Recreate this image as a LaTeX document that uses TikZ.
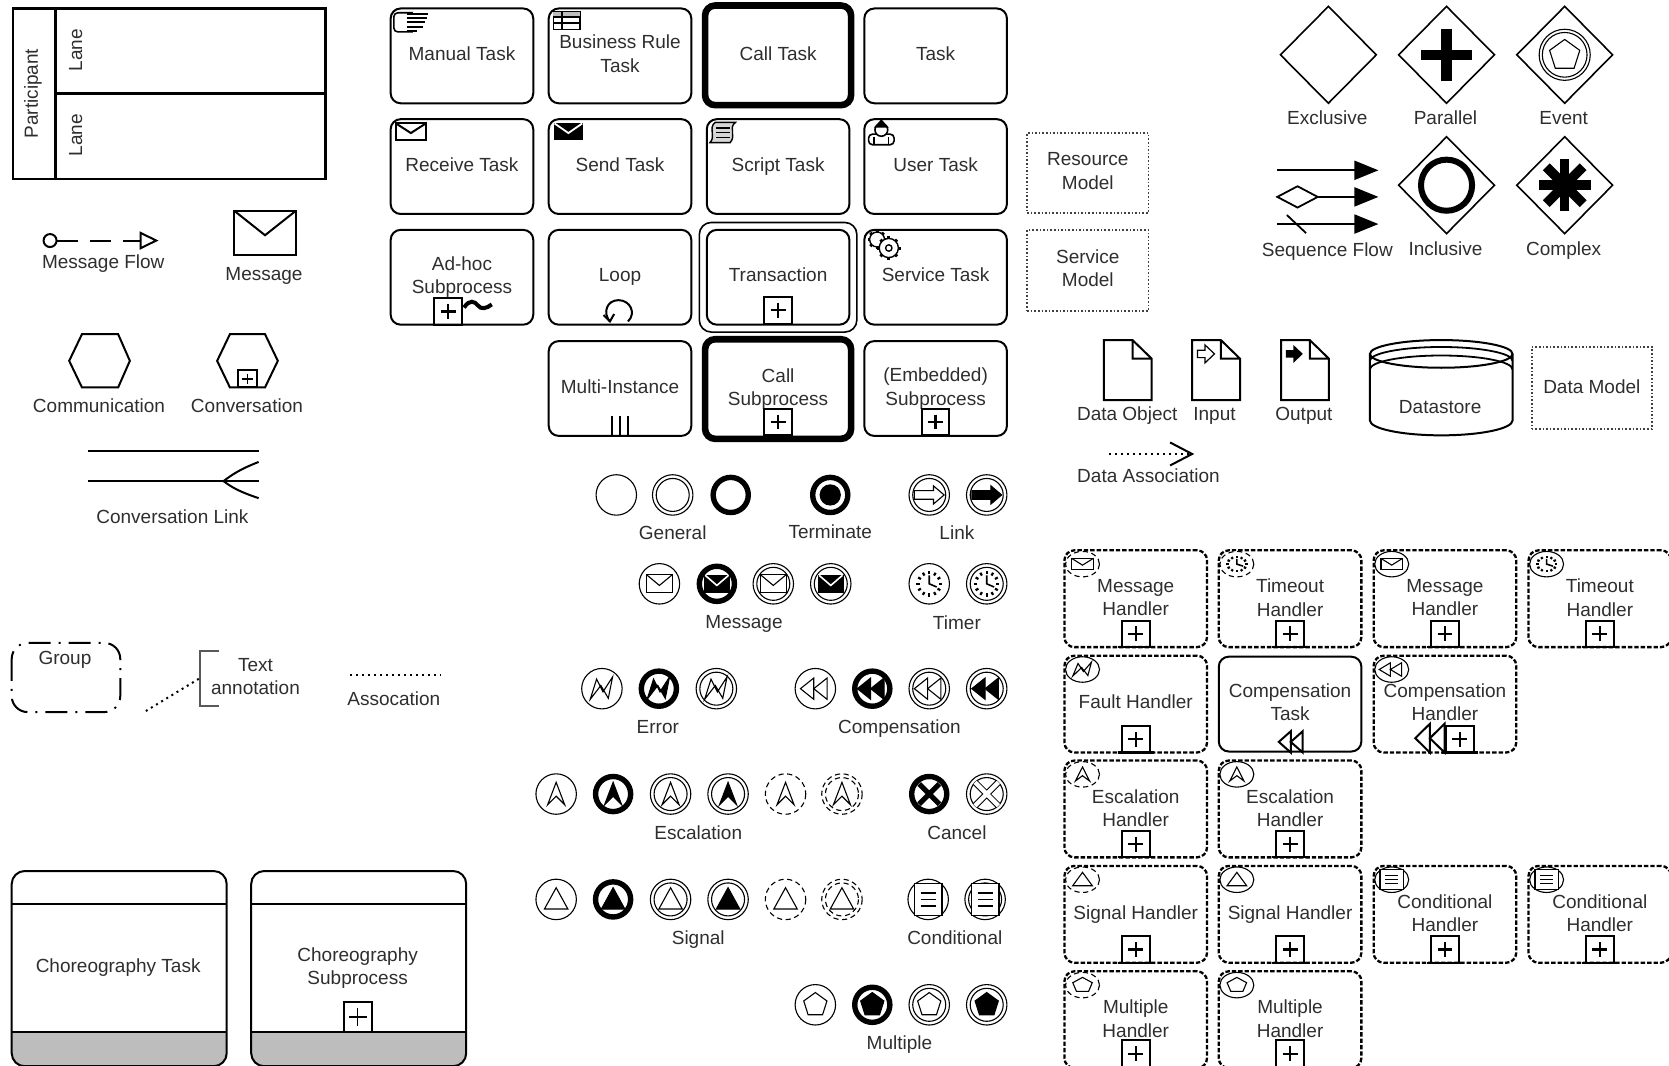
\documentclass[tikz,border=0pt]{standalone}
\usepackage{fontspec}
\setmainfont{Liberation Sans}
\usetikzlibrary{arrows.meta,calc}
\definecolor{ink}{HTML}{000000}
\definecolor{txt}{HTML}{2E2E2E}
\definecolor{band}{HTML}{BDBDBD}

%% event rings, drawn round (0,0)
\newcommand{\ringPlain}{\draw[ev, fill=white] (0,0) circle (19);}
\newcommand{\ringThick}{\draw[line width=2.7pt, fill=white] (0,0) circle (16.5);}
\newcommand{\ringDouble}{\draw[ev, fill=white] (0,0) circle (19); \draw[ev] (0,0) circle (15.5);}
\newcommand{\ringDash}{\draw[ev, dash pattern=on 2.6pt off 1.8pt, fill=white] (0,0) circle (19);}
\newcommand{\ringDashDouble}{\draw[ev, dash pattern=on 2.6pt off 1.8pt, fill=white] (0,0) circle (19);
  \draw[ev, dash pattern=on 2.6pt off 1.8pt] (0,0) circle (15.5);}
\newcommand{\ringNone}{}
%% event glyphs
\newcommand{\glNone}[1]{}
\newcommand{\glMail}[1]{\draw[ev, fill=#1] (-12,-8.5) rectangle (12,8.5); \draw[ev] (-12,-8.5) -- (0,1.5) -- (12,-8.5);}
\newcommand{\glMailB}[1]{\fill[ink] (-12,-8.5) rectangle (12,8.5); \draw[white, line width=.8pt] (-11,-8) -- (0,1.5) -- (11,-8);}
\newcommand{\glLink}[1]{\draw[ev, fill=#1] (-14,-4) -- (4,-4) -- (4,-8.5) -- (14,0) -- (4,8.5) -- (4,4) -- (-14,4) -- cycle;}
\newcommand{\glClock}[1]{\foreach \a in {0,30,...,330} {\draw[line width=1.1pt] (\a:9) -- (\a:12);}
  \draw[line width=.8pt] (0,-8) -- (0,0) -- (7,3);}
\newcommand{\glBolt}[1]{\draw[ev, fill=#1] (-11,10) -- (-5,-9) -- (1,3) -- (10,-11) -- (6,9) -- (-1,-3) -- cycle;}
\newcommand{\glComp}[1]{\draw[ev, fill=#1] (-1.5,-10) -- (-14,0) -- (-1.5,10) -- cycle; \draw[ev, fill=#1] (11,-10) -- (-1.5,0) -- (11,10) -- cycle;}
\newcommand{\glEsc}[1]{\draw[ev, fill=#1] (0,-11) -- (-8,10) -- (0,2) -- (8,10) -- cycle;}
\newcommand{\glTri}[1]{\draw[ev, fill=#1] (0,-11) -- (11,9) -- (-11,9) -- cycle;}
\newcommand{\glCond}[1]{\draw[ev, line width=.7pt, fill=white] (-13,-15) rectangle (13,15);
  \foreach \t in {-6,0,6} {\draw[ev, line width=.7pt] (-7,\t) -- (7,\t);}}
\newcommand{\glCrossB}[1]{\draw[line width=2.6pt] (-9.5,-9.5) -- (9.5,9.5) (-9.5,9.5) -- (9.5,-9.5);}
\newcommand{\glCrossW}[1]{\draw[line width=3.2pt] (-11,-11) -- (11,11) (-11,11) -- (11,-11);
  \draw[white, line width=2.2pt] (-11,-11) -- (11,11) (-11,11) -- (11,-11);}
\newcommand{\glPent}[1]{\draw[ev, fill=#1] (0,-11.5) -- (10.9,-3.6) -- (6.8,9.3) -- (-6.8,9.3) -- (-10.9,-3.6) -- cycle;}
\newcommand{\glDisc}[1]{\fill[ink] (0,0) circle (10);}

\newcommand{\ev}[5]{\begin{scope}[shift={(#1,#2)}]\csname ring#3\endcsname\csname gl#4\endcsname{#5}\end{scope}}
%% the same event, squeezed into the corner of a handler box
\newcommand{\evs}[5]{\begin{scope}[shift={(#1,#2)},xscale=.84,yscale=.63]\ev{0}{0}{#3}{#4}{#5}\end{scope}}
%% subprocess marker: centre x, bottom y
\newcommand{\plusmark}[2]{\draw[markbox] (#1-13,#2-25) rectangle (#1+13,#2);
  \draw[line width=1.2pt] (#1-7,#2-12.5) -- (#1+7,#2-12.5) (#1,#2-19.5) -- (#1,#2-5.5);}
\newcommand{\plushdl}[2]{\plusmark{#1}{#2}\draw[line width=1.1pt] (#1-17,#2) -- (#1+17,#2);}
\newcommand{\gearat}[3]{\foreach \a in {0,45,...,315}
    {\draw[line width=1.5pt] ($(#1,#2)+(\a:#3-1)$) -- ($(#1,#2)+(\a:#3+2)$);}
  \draw[ev, line width=.7pt, fill=white] (#1,#2) circle (#3);}

\begin{document}
\begin{tikzpicture}[
  x=.5322pt, y=-.5322pt, line width=1pt,
  font=\fontsize{9.5}{11.7}\selectfont, text=txt,
  ev/.style={line width=.55pt, draw=ink},
  markbox/.style={line width=1pt, draw=ink},
  task/.style={draw=ink, rounded corners=5pt, line width=1pt, align=center, inner sep=0pt,
               minimum width=71.3pt, minimum height=47.4pt},
  oneline/.style={text height=6.8pt, text depth=2.1pt},
  raised/.style={text depth=2.1pt},
  calltask/.style={task, line width=3.3pt, minimum width=73pt, minimum height=49.8pt},
  hdl/.style={task, minimum height=48.4pt, line width=1.15pt, dash pattern=on 2.2pt off 1pt, text depth=1.1pt},
  model/.style={draw=ink!75, densely dotted, line width=.8pt, align=center, inner sep=0pt, text depth=2.1pt},
  gate/.style={draw=ink, line width=.8pt},
  lab/.style={inner sep=0pt, align=center},
  chor/.style={draw=ink, rounded corners=6.5pt, line width=1pt, align=center, inner sep=0pt,
               minimum width=107.5pt, minimum height=97.6pt},
  flow/.style={line width=1pt, -{Triangle[length=12pt,width=9.5pt]}},
  doc/.style={line width=1pt, draw=ink},
]
\useasboundingbox (0,0) rectangle (1568,1001.5);

%% ================= pool =================
\draw[line width=1.25pt] (12,8) rectangle (306,168);
\draw[line width=1.25pt] (52,8) -- (52,168) (52,88) -- (306,88);
\node[lab, rotate=90] (participant) at (31,88) {Participant};
\node[lab, rotate=90] (lane1) at (71,47) {Lane};
\node[lab, rotate=90] (lane2) at (71,127) {Lane};

%% ================= message flow, message =================
\coordinate (mfA) at (40,226);
\coordinate (mfB) at (149,226);
\draw[line width=1pt, dash pattern=on 10.6pt off 6.1pt,
      {Circle[open,length=7.5pt,width=7.5pt]}-{Triangle[open,length=9.5pt,width=9pt]}] (mfA) -- (mfB);
\node[lab] (mfLabel) at (97,248) {Message Flow};
\draw[line width=1pt] (220,198) rectangle (278,240);
\draw[line width=1pt] (220,198) -- (249,221) -- (278,198);
\node[lab] (msgLabel) at (248,259) {Message};

%% ================= communication, conversation =================
\draw[line width=1pt] (77,314) -- (111,314) -- (122,339) -- (111,364) -- (77,364) -- (65,339) -- cycle;
\draw[line width=1pt] (216,314) -- (249,314) -- (261,339) -- (249,364) -- (216,364) -- (204,339) -- cycle;
\draw[line width=1pt] (224,348) rectangle (241,364);
\draw[line width=.9pt] (227,356) -- (238,356) (232.5,351) -- (232.5,361);
\node[lab] (commLabel) at (93,381) {Communication};
\node[lab] (convLabel) at (232,381) {Conversation};

\coordinate (clA) at (83,424);
\coordinate (clB) at (243,424);
\coordinate (clC) at (83,452);
\coordinate (clD) at (243,452);
\coordinate (clE) at (210,452);
\coordinate (clF) at (243,434);
\coordinate (clG) at (243,468);
\draw[line width=1pt] (clA) -- (clB);
\draw[line width=1pt] (clC) -- (clD);
\draw[line width=1pt] (clF) .. controls (225,441) and (218,446) .. (clE) .. controls (218,458) and (225,462) .. (clG);
\node[lab] (clLabel) at (162,485) {Conversation Link};

%% ================= group, annotation, association =================
\draw[line width=1pt, rounded corners=8pt, dash pattern=on 11pt off 4pt on 1pt off 4pt] (11,604) rectangle (113,669);
\node[lab] (groupLabel) at (61,620) {Group};
\draw[draw=ink!65, line width=1pt] (206,611.5) -- (188,611.5) -- (188,663) -- (206,663);
\node[lab] (annot) at (240,635.5) {Text\\annotation};
\coordinate (anA) at (137,668);
\coordinate (anB) at (188,637);
\draw[line width=1pt, dotted] (anA) -- (anB);
\coordinate (asA) at (329,634);
\coordinate (asB) at (414,634);
\draw[line width=1pt, dotted] (asA) -- (asB);
\node[lab] (asLabel) at (370,656) {Assocation};

%% ================= choreography =================
\node[chor, path picture={\fill[band, sharp corners] ([yshift=16.5pt]path picture bounding box.south west) rectangle (path picture bounding box.south east);}]
  (chorTask) at (112,910) {};
\draw[line width=1pt] (11,849.5) -- (213,849.5) (11,970) -- (213,970);
\node[lab] at (111,909.5) (chorTaskLabel) {Choreography Task};
\node[chor, path picture={\fill[band, sharp corners] ([yshift=16.5pt]path picture bounding box.south west) rectangle (path picture bounding box.south east);}]
  (chorSub) at (337,910) {};
\draw[line width=1pt] (236,849.5) -- (438,849.5) (236,970) -- (438,970);
\node[lab] at (336,909.5) (chorSubLabel) {Choreography\\Subprocess};
\draw[markbox] (323,941) rectangle (349.5,970);
\draw[line width=.8pt] (328,955.5) -- (345,955.5) (336,947) -- (336,964);

%% ================= tasks =================
\node[task, oneline] (manual)   at (434,52.5) {Manual Task};
\node[task, raised] (bizrule)  at (582.5,52.5) {Business Rule\\Task};
\node[calltask, oneline] (calltsk) at (731,52) {Call Task};
\node[task, oneline] (plain)    at (879,52.5) {Task};
\node[task, oneline] (receive)  at (434,156.5) {Receive Task};
\node[task, oneline] (send)     at (582.5,156.5) {Send Task};
\node[task, oneline] (script)   at (731,156.5) {Script Task};
\node[task, oneline] (user)     at (879,156.5) {User Task};
\node[task] (adhoc)    at (434,260.5) {Ad-hoc\\Subprocess};
\node[task, oneline] (loop)     at (582.5,260.5) {Loop};
\draw[line width=.8pt, rounded corners=6pt] (657,209) rectangle (805,312);
\node[task, oneline] (transact) at (731,260.5) {Transaction};
\node[task, oneline] (service)  at (879,260.5) {Service Task};
\node[task, oneline] (multi)    at (582.5,365) {Multi-Instance};
\node[calltask] (callsub) at (731,365.5) {Call\\Subprocess};
\node[task] (embedded) at (879,365) {(Embedded)\\Subprocess};

% task icons
\draw[line width=.8pt, rounded corners=2pt] (388,12) -- (370,12) -- (370,30) -- (388,30);
\foreach \t/\e in {13/402,17/401,21/399,25/397,29/392}
  \draw[line width=1pt] (382,\t) -- (\e,\t);
\draw[line width=.7pt] (520,11) rectangle (545,27.5);
\fill[band] (520,11) rectangle (545,16);
\draw[line width=.7pt] (520,16) -- (545,16) (520,21.5) -- (545,21.5) (528,11) -- (528,27.5);
\draw[line width=1pt] (372,116) rectangle (400,132);
\draw[line width=1pt] (372,116) -- (386,125) -- (400,116);
\fill[ink] (520.5,116) rectangle (548,132);
\draw[white, line width=.9pt] (521,116) -- (534,125) -- (547,116);
\draw[ev, line width=.7pt, fill=band!60] (672,115) -- (691,115) .. controls (684,120) and (692,127) .. (686,134)
  -- (667,134) .. controls (673,128) and (665,120) .. (672,115) -- cycle;
\foreach \t in {120,124.5,129} \draw[line width=.8pt] (673,\t) -- (686,\t);
\draw[line width=.8pt, rounded corners=2pt, fill=white] (816,136) -- (816,126) -- (840,126) -- (840,136) -- cycle;
\draw[line width=.8pt, fill=white] (828,122) circle (6);
\fill[ink] (821,120) -- (828,112) -- (835,120) -- cycle;
\draw[line width=.7pt] (821,129) -- (821,136) (835,129) -- (835,136);
\gearat{824}{225}{7}
\gearat{835}{233}{9}
\draw[ev, line width=.7pt] (835,233) circle (3);

% markers at the bottom edge
\plusmark{421}{305}
\draw[line width=2pt] (436,289) .. controls (441,281) and (446,283) .. (449,287) .. controls (452,291) and (457,290) .. (462,286);
\draw[line width=1pt] (590,302) .. controls (598,294) and (592,282) .. (581,282)
  .. controls (570,282) and (566,294) .. (573,302);
\draw[line width=1pt] (567,296) -- (573,302) -- (577,295);
\draw[line width=1pt] (575,391) -- (575,409) (582.5,391) -- (582.5,409) (590,391) -- (590,409);
\plusmark{731}{304}
\plusmark{731}{409}
\plusmark{879}{409}

%% ================= models =================
\node[model, minimum width=60.7pt, minimum height=40pt] (resource) at (1022,162.5) {Resource\\Model};
\node[model, minimum width=60.7pt, minimum height=40.4pt] (svcmodel) at (1022,254) {Service\\Model};
\node[model, minimum width=60pt, minimum height=41pt, text depth=1pt] (datamodel) at (1495.5,364.5) {Data Model};

%% ================= gateways =================
\foreach \cx/\cy in {1248/51.5,1359/51.5,1470/51.5,1359/174,1470/174}
  \draw[gate] (\cx-45,\cy) -- (\cx,\cy-45.5) -- (\cx+45,\cy) -- (\cx,\cy+45.5) -- cycle;
\draw[line width=5.3pt] (1335,51.5) -- (1383,51.5) (1359,27) -- (1359,76);
\draw[ev] (1470,51.5) circle (24) (1470,51.5) circle (21);
\begin{scope}[shift={(1470,52)},scale=1.3]\glPent{white}\end{scope}
\draw[line width=3pt] (1359,174) circle (24);
\foreach \a in {0,45,90,135}
  \draw[line width=4.8pt] ($(1470,174)+(\a:24.5)$) -- ($(1470,174)+(\a+180:24.5)$);
\foreach \t/\lx/\ly [count=\i] in {Exclusive/1247/111,Parallel/1358/111,Event/1469/111,Sequence Flow/1247/236,Inclusive/1358/233.5,Complex/1469/235}
  \node[lab] (gate\i) at (\lx,\ly) {\t};

%% ================= sequence flows =================
\coordinate (sfA) at (1200,160);
\coordinate (sfB) at (1295,160);
\coordinate (sfC) at (1238,185);
\coordinate (sfD) at (1295,185);
\coordinate (sfE) at (1200,210.5);
\coordinate (sfF) at (1295,210.5);
\draw[flow] (sfA) -- (sfB);
\draw[flow] (sfC) -- (sfD);
\draw[flow] (sfE) -- (sfF);
\draw[line width=.9pt] (1200,185) -- (1219,175) -- (1238,185) -- (1219,195) -- cycle;
\draw[line width=.9pt] (1209,202) -- (1227,219);

%% ================= data =================
\foreach \dx in {1037,1120,1203.5}
  \draw[doc] (\dx,319.5) -- (\dx+27,319.5) -- (\dx+45,337) -- (\dx+45,376) -- (\dx,376) -- cycle
    (\dx+27,319.5) -- (\dx+27,337) -- (\dx+45,337);
\draw[line width=.6pt] (1125,329) -- (1132,329) -- (1132,324) -- (1141,332.5) -- (1132,341) -- (1132,336) -- (1125,336) -- cycle;
\fill[ink] (1208,329) -- (1215,329) -- (1215,324) -- (1224,332.5) -- (1215,341) -- (1215,336) -- (1208,336) -- cycle;
\node[lab] (objLabel) at (1059,390.5) {Data Object};
\node[lab] (inLabel) at (1141,390.5) {Input};
\node[lab] (outLabel) at (1225,390.5) {Output};
\draw[doc] (1287,332.5) arc (180:360:67 and 13) -- (1421,395) arc (0:180:67 and 14) -- cycle;
\draw[doc] (1287,332.5) arc (180:0:67 and 13);
\draw[line width=.9pt] (1287,339) arc (180:360:67 and 13) (1287,347) arc (180:360:67 and 13);
\node[lab] (storeLabel) at (1353,382) {Datastore};
\coordinate (daA) at (1042,426.5);
\coordinate (daB) at (1122,426.5);
\draw[line width=1pt, dotted, -{Straight Barb[length=11pt,width=11.5pt]}] (daA) -- (daB);
\node[lab] (daLabel) at (1079,447) {Data Association};

%% ================= events =================
\foreach \px/\ring/\gl/\fl in {579/Plain/None/white,632/Double/None/white,686.5/Thick/None/white,780/Thick/Disc/white,873/Double/Link/white,927/Double/Link/black}
  {\ev{\px}{465}{\ring}{\gl}{\fl}}
\foreach \px/\ring/\gl/\fl in {619.5/Plain/Mail/white,673.5/Thick/MailB/black,726.5/Double/Mail/white,780.5/Double/MailB/black,873/Plain/Clock/white,927/Double/Clock/white}
  {\ev{\px}{548.5}{\ring}{\gl}{\fl}}
\foreach \px/\ring/\gl/\fl in {565.5/Plain/Bolt/white,619/Thick/Bolt/black,673/Double/Bolt/white,766/Plain/Comp/white,819.5/Thick/Comp/black,873/Double/Comp/white,927/Double/Comp/black}
  {\ev{\px}{647}{\ring}{\gl}{\fl}}
\foreach \px/\ring/\gl/\fl in {522.5/Plain/Esc/white,576/Thick/Esc/black,630/Double/Esc/white,684/Double/Esc/black,738/Dash/Esc/white,791/DashDouble/Esc/white,873/Thick/CrossB/white,927/Double/CrossW/white}
  {\ev{\px}{746}{\ring}{\gl}{\fl}}
\foreach \px/\ring/\gl/\fl in {522.5/Plain/Tri/white,576/Thick/Tri/black,630/Double/Tri/white,684/Double/Tri/black,738/Dash/Tri/white,791/DashDouble/Tri/white,872/Plain/Cond/white,925.5/Double/Cond/white}
  {\ev{\px}{845}{\ring}{\gl}{\fl}}
\foreach \px/\ring/\gl/\fl in {766/Plain/Pent/white,819.5/Thick/Pent/black,873/Double/Pent/white,927/Double/Pent/black}
  {\ev{\px}{944}{\ring}{\gl}{\fl}}
\foreach \t/\lx/\ly [count=\i] in {General/632/500.5,Terminate/780/500,Link/899/500,Message/699/586.5,Timer/899/585,Error/618/683,Compensation/845/684.5,Escalation/656/782,Cancel/899/782,Signal/656/882.5,Conditional/897/881,Multiple/845/981}
  \node[lab] (evLabel\i) at (\lx,\ly) {\t};

%% ================= handlers =================
\node[hdl] (hMsgA) at (1067,562.5) {Message\\Handler};
\node[hdl] (hTimA) at (1212,562.5) {Timeout\\Handler};
\node[hdl] (hMsgB) at (1357.5,562.5) {Message\\Handler};
\node[hdl] (hTimB) at (1503,562.5) {Timeout\\Handler};
\node[hdl, oneline] (hFault) at (1067,661.5) {Fault Handler};
\node[task, raised] (cTask) at (1212,661.5) {Compensation\\Task};
\node[hdl, raised] (hComp) at (1357.5,661.5) {Compensation\\Handler};
\node[hdl] (hEscA) at (1067,760) {Escalation\\Handler};
\node[hdl] (hEscB) at (1212,760) {Escalation\\Handler};
\node[hdl, oneline] (hSigA) at (1067,859) {Signal Handler};
\node[hdl, oneline] (hSigB) at (1212,859) {Signal Handler};
\node[hdl] (hCndA) at (1357.5,859) {Conditional\\Handler};
\node[hdl] (hCndB) at (1503,859) {Conditional\\Handler};
\node[hdl] (hMulA) at (1067,958) {Multiple\\Handler};
\node[hdl] (hMulB) at (1212,958) {Multiple\\Handler};

\evs{1017}{530}{Dash}{Mail}{white}
\evs{1162}{530}{Dash}{Clock}{white}
\evs{1307.5}{530}{Plain}{Mail}{white}
\evs{1453}{530}{Plain}{Clock}{white}
\evs{1017}{629}{Plain}{Bolt}{white}
\evs{1307.5}{629}{Plain}{Comp}{white}
\evs{1017}{727.5}{Dash}{Esc}{white}
\evs{1162}{727.5}{Plain}{Esc}{white}
\evs{1017}{826.5}{Dash}{Tri}{white}
\evs{1162}{826.5}{Plain}{Tri}{white}
\evs{1307.5}{826.5}{Plain}{Cond}{white}
\evs{1453}{826.5}{Plain}{Cond}{white}
\evs{1017}{925.5}{Dash}{Pent}{white}
\evs{1162}{925.5}{Plain}{Pent}{white}

\foreach \mx/\my in {1067/608,1212/608,1357.5/608,1503/608,1067/707,1067/805.5,1212/805.5,1067/904.5,1212/904.5,1357.5/904.5,1503/904.5,1067/1002.5,1212/1002.5}
  {\plushdl{\mx}{\my}}
\plushdl{1371.5}{707}

% compensation markers
\begin{scope}[ev/.append style={line width=1pt}]
\begin{scope}[shift={(1214,697)},xscale=.9,yscale=1]\glComp{white}\end{scope}
\begin{scope}[shift={(1345,693.5)},xscale=1.1,yscale=1.35]\glComp{white}\end{scope}
\end{scope}

\end{tikzpicture}
\end{document}
